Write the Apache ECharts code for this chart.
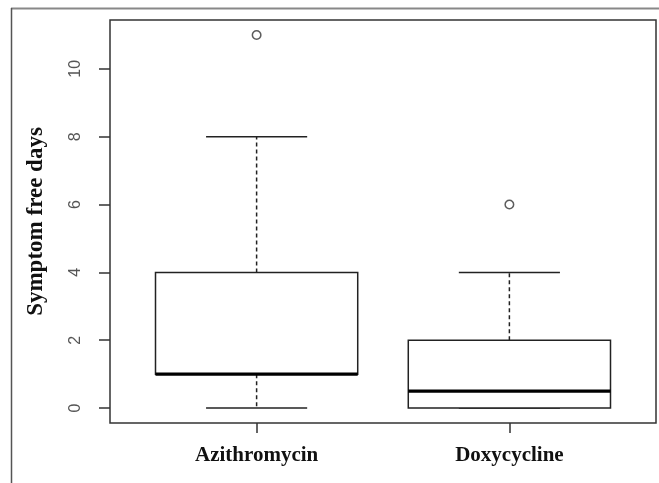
<!DOCTYPE html>
<html>
<head>
<meta charset="utf-8">
<script src="https://cdn.jsdelivr.net/npm/echarts@6/dist/echarts.min.js"></script>
<style>
html,body{margin:0;padding:0;background:#fff;}
#chart{width:659px;height:483px;}
</style>
</head>
<body>
<div id="chart"></div>
<script>
// ---- data ----
const categories = ['Azithromycin', 'Doxycycline'];
const whiskerLow = [0, 0];
const q1 = [1, 0];
const median = [1, 0.5];
const q3 = [4, 2];
const whiskerHigh = [8, 4];
const outlierCategory = ['Azithromycin', 'Doxycycline'];
const outlierValue = [11, 6];
const yTicks = [0, 2, 4, 6, 8, 10];
const yTitle = 'Symptom free days';

// ---- build ----
const catPos = categories.map((c, i) => i + 1);
const boxData = categories.map((c, i) => [catPos[i], whiskerLow[i], q1[i], median[i], q3[i], whiskerHigh[i]]);
const outlierData = outlierCategory.map((c, i) => [categories.indexOf(c) + 1, outlierValue[i]]);

const chart = echarts.init(document.getElementById('chart'), null, {renderer: 'canvas'});

function renderBox(params, api) {
  const x = api.value(0);
  const lo = api.value(1), b1 = api.value(2), md = api.value(3), b3 = api.value(4), hi = api.value(5);
  const halfBox = 0.4, halfCap = 0.2;
  const p = (xv, yv) => api.coord([xv, yv]);
  const tl = p(x - halfBox, b3), br = p(x + halfBox, b1);
  const mL = p(x - halfBox, md), mR = p(x + halfBox, md);
  const c3 = p(x, b3), cHi = p(x, hi), c1 = p(x, b1), cLo = p(x, lo);
  const capHiL = p(x - halfCap, hi), capHiR = p(x + halfCap, hi);
  const capLoL = p(x - halfCap, lo), capLoR = p(x + halfCap, lo);
  const solid = {stroke: '#222', lineWidth: 1.5};
  const dashed = {stroke: '#222', lineWidth: 1.5, lineDash: [4, 3]};
  return {
    type: 'group',
    children: [
      {type: 'line', shape: {x1: c3[0], y1: c3[1], x2: cHi[0], y2: cHi[1]}, style: dashed},
      {type: 'line', shape: {x1: c1[0], y1: c1[1], x2: cLo[0], y2: cLo[1]}, style: dashed},
      {type: 'line', shape: {x1: capHiL[0], y1: capHiL[1], x2: capHiR[0], y2: capHiR[1]}, style: solid},
      {type: 'line', shape: {x1: capLoL[0], y1: capLoL[1], x2: capLoR[0], y2: capLoR[1]}, style: solid},
      {type: 'rect', shape: {x: tl[0], y: tl[1], width: br[0] - tl[0], height: br[1] - tl[1]},
        style: {fill: '#fff', stroke: '#222', lineWidth: 1.5}},
      {type: 'line', shape: {x1: mL[0], y1: mL[1], x2: mR[0], y2: mR[1]}, style: {stroke: '#000', lineWidth: 3.2}}
    ]
  };
}

const option = {
  backgroundColor: '#fff',
  animation: false,
  graphic: [
    {type: 'line', shape: {x1: 11, y1: 8.5, x2: 659, y2: 8.5}, style: {stroke: '#888', lineWidth: 2}},
    {type: 'line', shape: {x1: 11.5, y1: 8, x2: 11.5, y2: 483}, style: {stroke: '#555', lineWidth: 1.5}}
  ],
  grid: {left: 110, top: 20, right: 3, bottom: 60, show: true, borderColor: '#333', borderWidth: 1.5, backgroundColor: '#fff'},
  xAxis: {
    type: 'value', min: 0.42, max: 2.58,
    axisLine: {show: false, onZero: false},
    splitLine: {show: false},
    axisTick: {show: true, customValues: catPos, length: 10, lineStyle: {color: '#333', width: 1.5}},
    axisLabel: {
      customValues: catPos,
      formatter: v => categories[Math.round(v) - 1],
      fontFamily: 'Liberation Serif', fontWeight: 'bold', fontSize: 21, color: '#111', margin: 22
    }
  },
  yAxis: {
    type: 'value', min: -0.44, max: 11.44,
    axisLine: {show: false, onZero: false},
    splitLine: {show: false},
    axisTick: {show: true, customValues: yTicks, length: 11, lineStyle: {color: '#333', width: 1.5}},
    axisLabel: {
      customValues: yTicks, rotate: 90,
      fontFamily: 'Liberation Sans', fontSize: 16, color: '#555', margin: 26
    },
    name: yTitle, nameLocation: 'middle', nameRotate: 90, nameGap: 62,
    nameTextStyle: {fontFamily: 'Liberation Serif', fontWeight: 'bold', fontSize: 23, color: '#111'}
  },
  series: [
    {type: 'custom', renderItem: renderBox, data: boxData, encode: {x: 0, y: [1, 2, 3, 4, 5]}, silent: true},
    {type: 'scatter', data: outlierData, symbol: 'circle', symbolSize: 8.5,
      itemStyle: {color: '#fff', borderColor: '#333', borderWidth: 1.5}, silent: true}
  ]
};
chart.setOption(option);
</script>
</body>
</html>
